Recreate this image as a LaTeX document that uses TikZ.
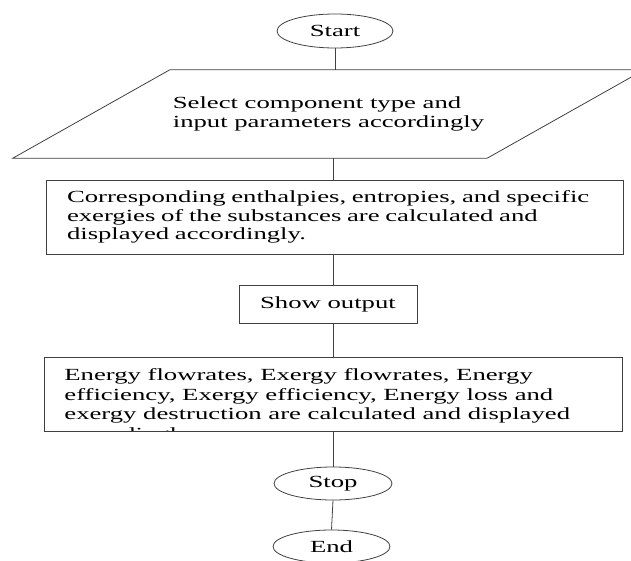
\documentclass[tikz,border=0pt]{standalone}
\usepackage{fontspec}
\setmainfont[FakeStretch=1.57]{Liberation Serif}
\usetikzlibrary{shapes.geometric, calc}
\tikzstyle{startstop} = [ellipse, draw=black!75, line width=0.8pt, minimum width=116pt, minimum height=34pt, inner sep=0pt]
\tikzstyle{process} = [rectangle, draw=black!75, line width=0.8pt, inner sep=0pt, align=left]
\tikzstyle{io} = [rectangle, inner sep=0pt, align=left]
\tikzstyle{line} = [draw=black!75, line width=0.8pt]

\begin{document}
\begin{tikzpicture}[
            x=1pt, y=-1pt,
            every node/.style={font=\fontsize{17}{18.3}\selectfont}
        ]
            \clip (0,0) rectangle (631,561);
            % Nodes
            \node (start) [startstop] at (335,31) {Start};
            \node (input) [io, minimum width=317pt, minimum height=88pt] at (328.5,114) {Select component type and\\input parameters accordingly};
            \node (calc) [process, minimum width=577pt, minimum height=74pt, text width=535pt] at (334.5,217) {Corresponding enthalpies, entropies, and specific\\exergies of the substances are calculated and\\displayed accordingly.};
            \node (show) [process, minimum width=178pt, minimum height=38pt, align=center] at (328,304) {Show output};
            \node (result) [process, minimum width=578pt, minimum height=74pt,
                path picture={\node [draw=none, minimum width=0pt, minimum height=0pt, anchor=west, align=left, inner sep=0pt, yshift=-12pt, font=\fontsize{17}{19.5}\selectfont] at ([xshift=20pt]path picture bounding box.west) {Energy flowrates, Exergy flowrates, Energy\\efficiency, Exergy efficiency, Energy loss and\\exergy destruction are calculated and displayed\\accordingly.};}] at (333,394) {};
            \node (stop) [startstop, minimum width=118pt, minimum height=33pt] at (333,483.5) {Stop};
            \node (end) [startstop, minimum width=117pt, minimum height=33pt] at (331.5,546.5) {End};

            % Input shape
            \draw [line] (input.north west) -- ($(input.north east)+(157,0)$) -- (input.south east) -- ($(input.south west)+(-157,0)$) -- cycle;

            % Lines
            \draw [line] (start.south) -- (start.south |- input.north);
            \draw [line] (input.south -| result) -- (calc.north -| result);
            \draw [line] (calc.south -| result) -- (show.north -| result);
            \draw [line] (show.south -| result) -- (result.north);
            \draw [line] (result.south) -- (stop.north);
            \draw [line] (stop.south) -- (end.north);
        \end{tikzpicture}
\end{document}
